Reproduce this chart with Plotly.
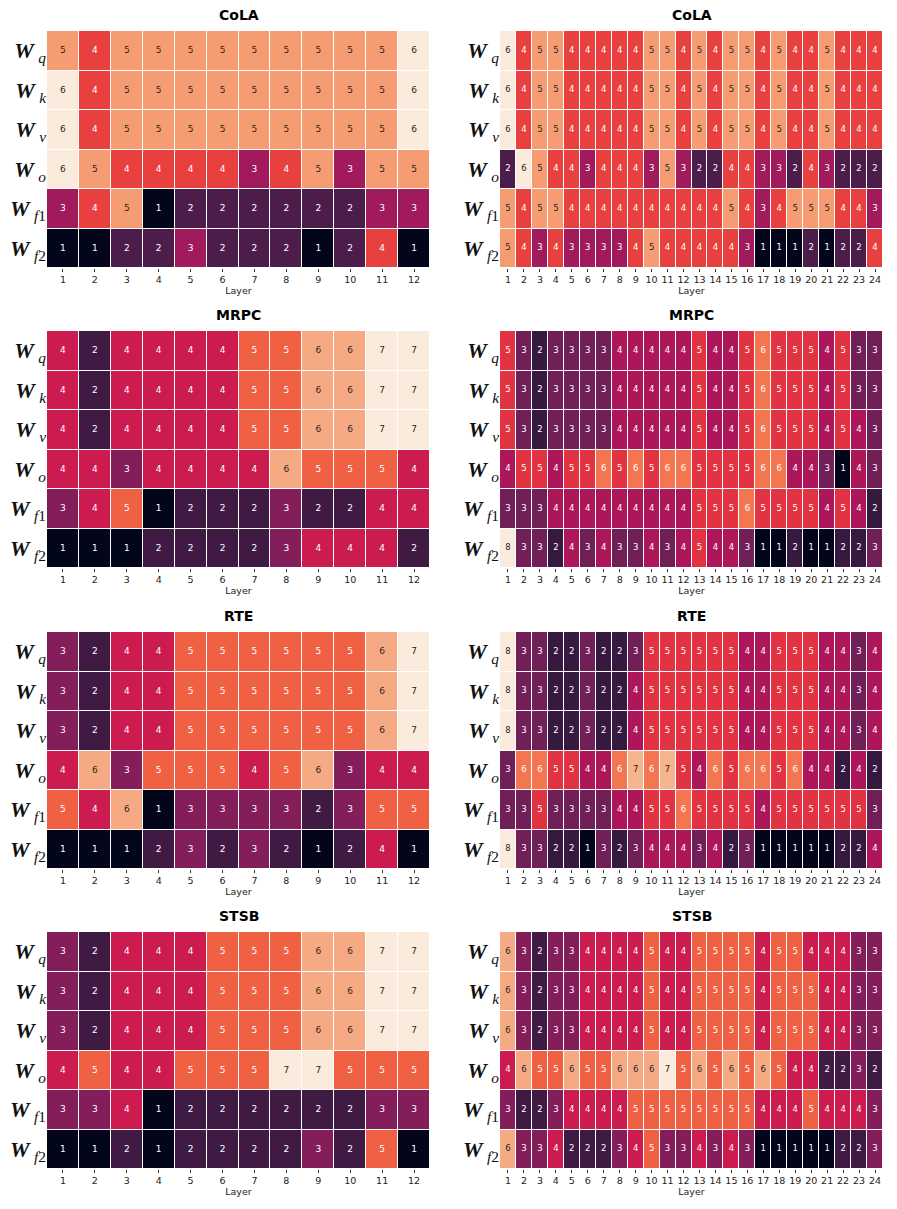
import plotly.graph_objects as go

# ---- data -------------------------------------------------------------------
TASKS = ["CoLA", "MRPC", "RTE", "STSB"]
ROW_LABELS = [
    "<b><i>W</i></b>&#8201;<sub><i>q</i></sub>",
    "<b><i>W</i></b>&#8201;<sub><i>k</i></sub>",
    "<b><i>W</i></b>&#8201;<sub><i>v</i></sub>",
    "<b><i>W</i></b>&#8201;<sub><i>o</i></sub>",
    "<b><i>W</i></b>&#8201;<sub><i>f</i>1</sub>",
    "<b><i>W</i></b>&#8201;<sub><i>f</i>2</sub>",
]
LAYERS_BASE = list(range(1, 13))
LAYERS_LARGE = list(range(1, 25))

cola_base = [
    [5, 4, 5, 5, 5, 5, 5, 5, 5, 5, 5, 6],
    [6, 4, 5, 5, 5, 5, 5, 5, 5, 5, 5, 6],
    [6, 4, 5, 5, 5, 5, 5, 5, 5, 5, 5, 6],
    [6, 5, 4, 4, 4, 4, 3, 4, 5, 3, 5, 5],
    [3, 4, 5, 1, 2, 2, 2, 2, 2, 2, 3, 3],
    [1, 1, 2, 2, 3, 2, 2, 2, 1, 2, 4, 1],
]
cola_large = [
    [6, 4, 5, 5, 4, 4, 4, 4, 4, 5, 5, 4, 5, 4, 5, 5, 4, 5, 4, 4, 5, 4, 4, 4],
    [6, 4, 5, 5, 4, 4, 4, 4, 4, 5, 5, 4, 5, 4, 5, 5, 4, 5, 4, 4, 5, 4, 4, 4],
    [6, 4, 5, 5, 4, 4, 4, 4, 4, 5, 5, 4, 5, 4, 5, 5, 4, 5, 4, 4, 5, 4, 4, 4],
    [2, 6, 5, 4, 4, 3, 4, 4, 4, 3, 5, 3, 2, 2, 4, 4, 3, 3, 2, 4, 3, 2, 2, 2],
    [5, 4, 5, 5, 4, 4, 4, 4, 4, 4, 4, 4, 4, 4, 5, 4, 3, 4, 5, 5, 5, 4, 4, 3],
    [5, 4, 3, 4, 3, 3, 3, 3, 4, 5, 4, 4, 4, 4, 4, 3, 1, 1, 1, 2, 1, 2, 2, 4],
]
mrpc_base = [
    [4, 2, 4, 4, 4, 4, 5, 5, 6, 6, 7, 7],
    [4, 2, 4, 4, 4, 4, 5, 5, 6, 6, 7, 7],
    [4, 2, 4, 4, 4, 4, 5, 5, 6, 6, 7, 7],
    [4, 4, 3, 4, 4, 4, 4, 6, 5, 5, 5, 4],
    [3, 4, 5, 1, 2, 2, 2, 3, 2, 2, 4, 4],
    [1, 1, 1, 2, 2, 2, 2, 3, 4, 4, 4, 2],
]
mrpc_large = [
    [5, 3, 2, 3, 3, 3, 3, 4, 4, 4, 4, 4, 5, 4, 4, 5, 6, 5, 5, 5, 4, 5, 3, 3],
    [5, 3, 2, 3, 3, 3, 3, 4, 4, 4, 4, 4, 5, 4, 4, 5, 6, 5, 5, 5, 4, 5, 3, 3],
    [5, 3, 2, 3, 3, 3, 3, 4, 4, 4, 4, 4, 5, 4, 4, 5, 6, 5, 5, 5, 4, 5, 4, 3],
    [4, 5, 5, 4, 5, 5, 6, 5, 6, 5, 6, 6, 5, 5, 5, 5, 6, 6, 4, 4, 3, 1, 4, 3],
    [3, 3, 3, 4, 4, 4, 4, 4, 4, 4, 4, 4, 5, 5, 5, 6, 5, 5, 5, 5, 4, 5, 4, 2],
    [8, 3, 3, 2, 4, 3, 4, 3, 3, 4, 3, 4, 5, 4, 4, 3, 1, 1, 2, 1, 1, 2, 2, 3],
]
rte_base = [
    [3, 2, 4, 4, 5, 5, 5, 5, 5, 5, 6, 7],
    [3, 2, 4, 4, 5, 5, 5, 5, 5, 5, 6, 7],
    [3, 2, 4, 4, 5, 5, 5, 5, 5, 5, 6, 7],
    [4, 6, 3, 5, 5, 5, 4, 5, 6, 3, 4, 4],
    [5, 4, 6, 1, 3, 3, 3, 3, 2, 3, 5, 5],
    [1, 1, 1, 2, 3, 2, 3, 2, 1, 2, 4, 1],
]
rte_large = [
    [8, 3, 3, 2, 2, 3, 2, 2, 3, 5, 5, 5, 5, 5, 5, 4, 4, 5, 5, 5, 4, 4, 3, 4],
    [8, 3, 3, 2, 2, 3, 2, 2, 4, 5, 5, 5, 5, 5, 5, 4, 4, 5, 5, 5, 4, 4, 3, 4],
    [8, 3, 3, 2, 2, 3, 2, 2, 4, 5, 5, 5, 5, 5, 5, 4, 4, 5, 5, 5, 4, 4, 3, 4],
    [3, 6, 6, 5, 5, 4, 4, 6, 7, 6, 7, 5, 4, 6, 5, 6, 6, 5, 6, 4, 4, 2, 4, 2],
    [3, 3, 5, 3, 3, 3, 3, 4, 4, 5, 5, 6, 5, 5, 5, 5, 4, 5, 5, 5, 5, 5, 5, 3],
    [8, 3, 3, 2, 2, 1, 3, 2, 3, 4, 4, 4, 3, 4, 2, 3, 1, 1, 1, 1, 1, 2, 2, 4],
]
stsb_base = [
    [3, 2, 4, 4, 4, 5, 5, 5, 6, 6, 7, 7],
    [3, 2, 4, 4, 4, 5, 5, 5, 6, 6, 7, 7],
    [3, 2, 4, 4, 4, 5, 5, 5, 6, 6, 7, 7],
    [4, 5, 4, 4, 5, 5, 5, 7, 7, 5, 5, 5],
    [3, 3, 4, 1, 2, 2, 2, 2, 2, 2, 3, 3],
    [1, 1, 2, 1, 2, 2, 2, 2, 3, 2, 5, 1],
]
stsb_large = [
    [6, 3, 2, 3, 3, 4, 4, 4, 4, 5, 4, 4, 5, 5, 5, 5, 4, 5, 5, 4, 4, 4, 3, 3],
    [6, 3, 2, 3, 3, 4, 4, 4, 4, 5, 4, 4, 5, 5, 5, 5, 4, 5, 5, 5, 4, 4, 3, 3],
    [6, 3, 2, 3, 3, 4, 4, 4, 4, 5, 4, 4, 5, 5, 5, 5, 4, 5, 5, 5, 4, 4, 3, 3],
    [4, 6, 5, 5, 6, 5, 5, 6, 6, 6, 7, 5, 6, 5, 6, 5, 6, 5, 4, 4, 2, 2, 3, 2],
    [3, 2, 2, 3, 4, 4, 4, 4, 5, 5, 5, 5, 5, 5, 5, 5, 4, 4, 4, 5, 4, 4, 4, 3],
    [6, 3, 3, 4, 2, 2, 2, 3, 4, 5, 3, 3, 4, 3, 4, 3, 1, 1, 1, 1, 1, 2, 2, 3],
]

PANELS = [
    ("CoLA", cola_base, cola_large),
    ("MRPC", mrpc_base, mrpc_large),
    ("RTE", rte_base, rte_large),
    ("STSB", stsb_base, stsb_large),
]

# ---- style ------------------------------------------------------------------
# seaborn "rocket", approximated
ROCKET = [
    [0.0, "#03051a"], [0.07, "#1a1030"], [0.143, "#35193e"], [0.2, "#4c1d4b"],
    [0.286, "#701f57"], [0.333, "#841e5a"], [0.4, "#a11a5b"], [0.429, "#ad1759"],
    [0.5, "#cb1b4f"], [0.571, "#e13342"], [0.6, "#e83f3f"], [0.667, "#f06043"],
    [0.714, "#f37651"], [0.8, "#f69c73"], [0.857, "#f6b48f"], [0.93, "#f8d1b6"],
    [1.0, "#faebdd"],
]
W, H = 897, 1209
PAGE_OFFSET = 8  # default body margin of the html page
LEFT_X = (47, 430)
RIGHT_X = (500, 883)
ROW_TOPS = [31, 331, 632, 932]
PANEL_H = 237


def px_x(v):
    return (v - PAGE_OFFSET) / W


def px_y(v):
    return 1 - (v - PAGE_OFFSET) / H


fig = go.Figure()
n_axis = 0
for r, (task, base, large) in enumerate(PANELS):
    for c, (z, layers) in enumerate([(base, LAYERS_BASE), (large, LAYERS_LARGE)]):
        n_axis += 1
        sfx = "" if n_axis == 1 else str(n_axis)
        xa, ya = "x" + sfx, "y" + sfx
        flat = [v for row in z for v in row]
        vmin, vmax = min(flat), max(flat)
        fig.add_trace(go.Heatmap(
            z=z, x=layers, y=list(range(6)),
            colorscale=ROCKET, zmin=vmin, zmax=vmax, showscale=False,
            xgap=1, ygap=1, hoverinfo="skip",
            xaxis=xa, yaxis=ya,
        ))
        # cell annotations: dark text on light cells, white otherwise
        tx, ty, tt, tc = [], [], [], []
        for i, row in enumerate(z):
            for j, v in enumerate(row):
                tx.append(layers[j])
                ty.append(i)
                tt.append(str(v))
                tc.append("#262626" if (v - vmin) / (vmax - vmin) >= 0.75 else "white")
        fig.add_trace(go.Scatter(
            x=tx, y=ty, text=tt, mode="text",
            textfont=dict(color=tc, size=9 if c == 0 else 8.5, family="DejaVu Sans"),
            hoverinfo="skip", showlegend=False,
            xaxis=xa, yaxis=ya,
        ))

        x0, x1 = LEFT_X if c == 0 else RIGHT_X
        top = ROW_TOPS[r]
        fig.update_layout(**{
            "xaxis" + sfx: dict(
                domain=[px_x(x0), px_x(x1)], anchor=ya,
                range=[0.5, len(layers) + 0.5],
                tickmode="array", tickvals=layers, ticktext=[str(l) for l in layers],
                ticks="outside", ticklen=3, tickcolor="#333", tickwidth=0.8,
                tickfont=dict(size=9.5, color="#222", family="DejaVu Sans"),
                title=dict(text="Layer", font=dict(size=9.5, color="#222", family="DejaVu Sans"),
                           standoff=1),
                showgrid=False, zeroline=False, showline=False,
            ),
            "yaxis" + sfx: dict(
                domain=[px_y(top + PANEL_H), px_y(top)], anchor=xa,
                range=[5.5, -0.5],
                tickmode="array", tickvals=list(range(6)), ticktext=ROW_LABELS,
                tickfont=dict(size=22, color="#111", family="Liberation Serif"),
                ticks="", showgrid=False, zeroline=False, showline=False,
            ),
        })
        fig.add_annotation(
            text=f"<b>{task}</b>", xref="paper", yref="paper",
            x=px_x((x0 + x1) / 2), y=px_y(top - 16),
            xanchor="center", yanchor="middle", showarrow=False,
            font=dict(size=14, color="#000", family="DejaVu Sans"),
        )

fig.update_layout(
    width=W, height=H,
    margin=dict(l=0, r=0, t=0, b=0),
    paper_bgcolor="white", plot_bgcolor="white",
    showlegend=False,
)

fig.write_html("out.html")
